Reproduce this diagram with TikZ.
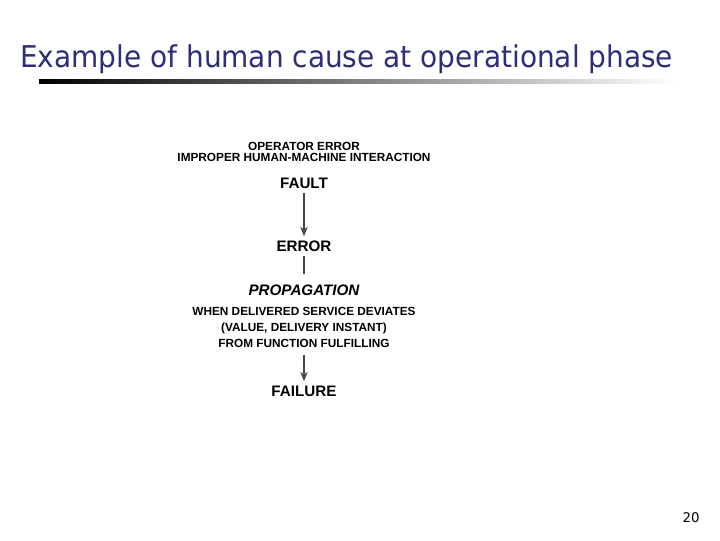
\documentclass[tikz,border=0pt]{standalone}
\usepackage{fontspec}
\setmainfont{Liberation Sans}
\newfontfamily\titlefont{DejaVu Sans}
\usetikzlibrary{arrows.meta}
\definecolor{titleblue}{RGB}{45,45,120}
\definecolor{flowgray}{RGB}{70,70,70}

\begin{document}
\begin{tikzpicture}[line join=round,>={Stealth[length=7pt,width=5.5pt,inset=2pt]},x=0.75pt,y=-0.75pt,
  bigtext/.style={anchor=base,font=\fontsize{11.4pt}{13pt}\selectfont\bfseries},
  smalltext/.style={anchor=base,font=\fontsize{8.85pt}{11pt}\selectfont\bfseries},
  flow/.style={draw=flowgray,line width=2.2pt}]
\useasboundingbox (0,0) rectangle (720,540);
% heading and rule
\node [anchor=base west,inner sep=0,text=titleblue,font=\titlefont\fontsize{22.5pt}{26pt}\selectfont] (title) at (20,67) {\scalebox{0.932}[1]{Example of human cause at operational phase}};
\shade [left color=black,right color=white] (39,79) rectangle (676,83);
% chain
\node [smalltext] (operr) at (304,150) {OPERATOR ERROR};
\node [smalltext] (improper) at (304,161) {IMPROPER HUMAN-MACHINE INTERACTION};
\node [bigtext] (fault) at (304,188) {FAULT};
\node [bigtext] (error) at (304,251.5) {ERROR};
\node [bigtext,font=\fontsize{11.4pt}{13pt}\selectfont\bfseries\itshape] (prop) at (304,295) {PROPAGATION};
\node [smalltext] (when) at (304,315) {WHEN DELIVERED SERVICE DEVIATES};
\node [smalltext] (value) at (304,331) {(VALUE, DELIVERY INSTANT)};
\node [smalltext] (from) at (304,347) {FROM FUNCTION FULFILLING};
\node [bigtext] (failure) at (304,396.5) {FAILURE};
\draw [flow,->] (fault) -- (error);
\draw [flow,shorten >=4] (error) -- (prop);
\draw [flow,->,shorten <=2] (from) -- (failure);
% page number
\node [anchor=base,font=\titlefont\fontsize{10pt}{12pt}\selectfont] (page) at (691,522) {20};
\end{tikzpicture}
\end{document}
